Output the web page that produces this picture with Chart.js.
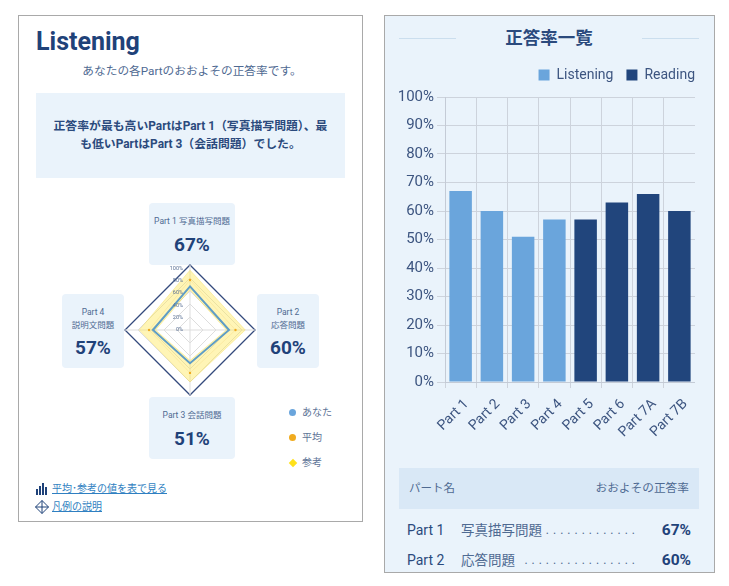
<!DOCTYPE html>
<html lang="ja"><head><meta charset="utf-8">
<script src="https://cdn.jsdelivr.net/npm/chart.js@4"></script>
<style>
html,body{margin:0;padding:0;background:#fff;overflow:hidden}
body{width:729px;height:586px;position:relative;font-family:Roboto,"Noto Sans CJK JP",sans-serif;color:#1f4279}
.a{position:absolute;white-space:nowrap}
.panel{position:absolute;box-sizing:border-box;border:1px solid #a9a9a9}
.card{position:absolute;background:#eaf3fb;border-radius:4px;text-align:center;color:#4f6a92;font-size:8.5px}
.card b{position:absolute;left:0;right:0;font-size:19px;line-height:20px;color:#1f4279;font-weight:700}
.card span{position:absolute;left:0;right:0;line-height:13px}
.link{font-size:10px;color:#2f7fc1;text-decoration:underline;line-height:14px}
.lg{font-size:10px;color:#5d7396;line-height:14px}
.dot{position:absolute;width:7px;height:7px;border-radius:50%}
canvas{position:absolute}
</style></head><body>
<div class="panel" style="left:18px;top:15px;width:345px;height:507px;background:#fff"></div>
<div class="panel" style="left:384px;top:15px;width:331px;height:558px;background:#eaf3fb;overflow:hidden"></div>

<div class="a" style="left:36px;top:26px;font-size:25px;font-weight:700;line-height:32px">Listening</div>
<div class="a" style="left:36px;width:309px;top:63px;text-align:center;font-size:11.7px;line-height:16px;color:#4f6a92;padding-left:3px;box-sizing:border-box">あなたの各Partのおおよその正答率です。</div>
<div class="a" style="left:36px;top:93px;width:309px;height:85px;background:#eaf3fb"></div>
<div class="a" style="left:36px;width:309px;top:117px;text-align:center;font-size:11.85px;font-weight:700;line-height:18px;color:#2b4a7d">正答率が最も高いPartはPart 1（写真描写問題）、最<br>も低いPartはPart 3（会話問題）でした。</div>

<div class="card" id="c1" style="left:149px;top:203px;width:86px;height:62px"><span style="top:12px" id="l1"></span><b style="top:32px" id="v1"></b></div>
<div class="card" id="c2" style="left:257px;top:294px;width:62px;height:74px"><span style="top:12px" id="l2"></span><b style="top:44px" id="v2"></b></div>
<div class="card" id="c3" style="left:149px;top:397px;width:86px;height:62px"><span style="top:12px" id="l3"></span><b style="top:32px" id="v3"></b></div>
<div class="card" id="c4" style="left:62px;top:294px;width:62px;height:74px"><span style="top:12px" id="l4"></span><b style="top:44px" id="v4"></b></div>

<canvas id="radar" width="136" height="136" style="left:122px;top:262px;width:136px;height:136px"></canvas>

<div class="dot" style="left:289px;top:409px;background:#6aa5dc"></div><div class="a lg" style="left:302px;top:406px">あなた</div>
<div class="dot" style="left:289px;top:434px;background:#f0ab1e"></div><div class="a lg" style="left:302px;top:431px">平均</div>
<div class="dot" style="left:289.5px;top:459.5px;width:6px;height:6px;border-radius:0;transform:rotate(45deg);background:#ffe11a"></div><div class="a lg" style="left:302px;top:456px">参考</div>

<svg class="a" style="left:35px;top:482px" width="14" height="14"><g fill="#1f4279"><rect x="1" y="7" width="2" height="6"/><rect x="4" y="4" width="2" height="9"/><rect x="7" y="1" width="2" height="12"/><rect x="10" y="5" width="2" height="8"/></g></svg>
<div class="a link" style="left:52px;top:482px">平均･参考の値を表で見る</div>
<svg class="a" style="left:35px;top:500px" width="14" height="14"><path d="M7 .5 13.5 7 7 13.5 .5 7Z M7 .5V13.5 M.5 7H13.5" fill="none" stroke="#1f4279"/></svg>
<div class="a link" style="left:52px;top:500px">凡例の説明</div>

<div class="a" style="left:399px;top:38px;width:57px;height:1px;background:#cbdeee"></div>
<div class="a" style="left:642px;top:38px;width:57px;height:1px;background:#cbdeee"></div>
<div class="a" style="left:399px;width:300px;top:27px;text-align:center;font-size:17.5px;font-weight:700;line-height:22px;color:#2b4a7d">正答率一覧</div>

<canvas id="bars" width="310" height="390" style="left:385px;top:56px;width:310px;height:390px"></canvas>

<div class="a" style="left:399px;top:468px;width:300px;height:41px;background:#d9e8f6"></div>
<div class="a" style="left:409px;top:480px;font-size:11.5px;line-height:16px;color:#4f6a92">パート名</div>
<div class="a" style="right:40px;top:480px;font-size:11.7px;line-height:16px;color:#4f6a92">おおよその正答率</div>
<div id="rows"></div>

<script>
const radarParts = ["Part 1", "Part 2", "Part 3", "Part 4"];
const cardLabels = ["Part 1 写真描写問題", "Part 2<br>応答問題", "Part 3 会話問題", "Part 4<br>説明文問題"];
const youValues = [67, 60, 51, 57];
const averageValues = [77, 70, 66, 63];
const referenceHigh = [92, 85, 80, 78];
const referenceLow = [62, 56, 47, 53];
const barCategories = ["Part 1", "Part 2", "Part 3", "Part 4", "Part 5", "Part 6", "Part 7A", "Part 7B"];
const listeningValues = [67, 60, 51, 57, null, null, null, null];
const readingValues = [null, null, null, null, 57, 63, 66, 60];
const tableParts = ["Part 1", "Part 2"];
const tableNames = ["写真描写問題", "応答問題"];
const tableDots = [".............", "................"];
const tableValues = [67, 60];

youValues.forEach((v, i) => {
  document.getElementById("l" + (i + 1)).innerHTML = cardLabels[i];
  document.getElementById("v" + (i + 1)).textContent = v + "%";
});

const rows = document.getElementById("rows");
tableParts.forEach((p, i) => {
  const y = 522 + i * 30;
  rows.insertAdjacentHTML("beforeend",
    `<div class="a" style="left:407px;top:${y}px;font-size:14px;line-height:17px;color:#2b4a7d">${p}</div>` +
    `<div class="a" style="left:461px;top:${y}px;font-size:13.5px;line-height:17px;color:#4f6a92">${tableNames[i]}</div>` +
    `<div class="a" style="right:90px;top:${y}px;font-size:12px;letter-spacing:4px;line-height:17px;color:#4f6a92">${tableDots[i]}</div>` +
    `<div class="a" style="right:38px;top:${y}px;font-size:15.5px;font-weight:700;line-height:17px;color:#1f4279">${tableValues[i]}%</div>`);
});

const radarTickLabels = {
  id: "radarTickLabels",
  afterDatasetsDraw(chart) {
    const s = chart.scales.r, c = chart.ctx;
    c.save();
    c.font = "5.5px Roboto";
    c.fillStyle = "#5d7396";
    c.textAlign = "right";
    c.textBaseline = "middle";
    s.ticks.forEach(t => {
      c.fillText(t.value + "%", s.xCenter - 7, s.yCenter - s.getDistanceFromCenterForValue(t.value) * 0.95);
    });
    c.restore();
  }
};

new Chart(document.getElementById("radar"), {
  type: "radar",
  plugins: [radarTickLabels],
  data: {
    labels: radarParts,
    datasets: [
      { label: "あなた", data: youValues, borderColor: "#5f9dc6", borderWidth: 2, pointRadius: 0, fill: false, order: 0 },
      { label: "平均", data: averageValues, borderColor: "rgba(240,205,110,.4)", borderWidth: 0.7, pointRadius: 1.2, pointBackgroundColor: "#f0ab1e", pointBorderWidth: 0, fill: false, order: 1 },
      { label: "参考", data: referenceHigh, borderColor: "rgba(245,225,110,.7)", borderWidth: 0.7, pointRadius: 0, backgroundColor: "rgba(255,232,80,.42)", fill: "+1", order: 2 },
      { label: "参考下限", data: referenceLow, borderColor: "rgba(245,225,110,.7)", borderWidth: 0.7, pointRadius: 0, fill: false, order: 3 }
    ]
  },
  options: {
    responsive: false, animation: false, layout: { padding: 3 },
    elements: { line: { tension: 0 } },
    plugins: { legend: { display: false }, tooltip: { enabled: false } },
    scales: { r: {
      min: 0, max: 100,
      ticks: { display: false, stepSize: 20 },
      pointLabels: { display: false },
      angleLines: { color: "#dddddd", lineWidth: 1 },
      grid: { circular: false, color: c => c.tick.value === 100 ? "#33497c" : "#dddddd", lineWidth: c => c.tick.value === 100 ? 1.3 : 1 }
    } }
  }
});

const legendGap = 13;
const legendLift = 5;
const legendPlace = {
  id: "legendPlace",
  afterLayout(chart) {
    const l = chart.legend;
    l.left += legendGap;
    l.right += legendGap;
    l.top -= legendLift;
    l.bottom -= legendLift;
  }
};

new Chart(document.getElementById("bars"), {
  type: "bar",
  plugins: [legendPlace],
  data: {
    labels: barCategories,
    datasets: [
      { label: "Listening", data: listeningValues, backgroundColor: "#6aa5dc" },
      { label: "Reading", data: readingValues, backgroundColor: "#21457c" }
    ]
  },
  options: {
    responsive: false, animation: false,
    barPercentage: 0.72, categoryPercentage: 1,
    plugins: {
      tooltip: { enabled: false },
      legend: { position: "top", align: "end",
        labels: { boxWidth: 11, boxHeight: 11, padding: legendGap, color: "#3d5580", font: { family: "Roboto", size: 14 } } }
    },
    scales: {
      x: { stacked: true,
        grid: { color: "#cdd3dc", tickLength: 6 }, border: { color: "#c4cbd6" },
        ticks: { color: "#3d5580", font: { family: "Roboto", size: 14 }, minRotation: 45, maxRotation: 45, padding: 8, labelOffset: 6, autoSkip: false },
        afterFit: s => { s.height = 64; s.paddingRight = 0; s.paddingLeft = 0; } },
      y: { stacked: true, min: 0, max: 100,
        grid: { color: "#cdd3dc", tickLength: 8 }, border: { color: "#c4cbd6" },
        ticks: { stepSize: 10, color: "#3d5580", padding: 3, font: { family: "Roboto", size: 15 }, callback: v => v + "%" },
        afterFit: s => { s.width = 60; s.paddingTop = 41; s.paddingBottom = 0; } }
    }
  }
});
</script>
</body></html>
